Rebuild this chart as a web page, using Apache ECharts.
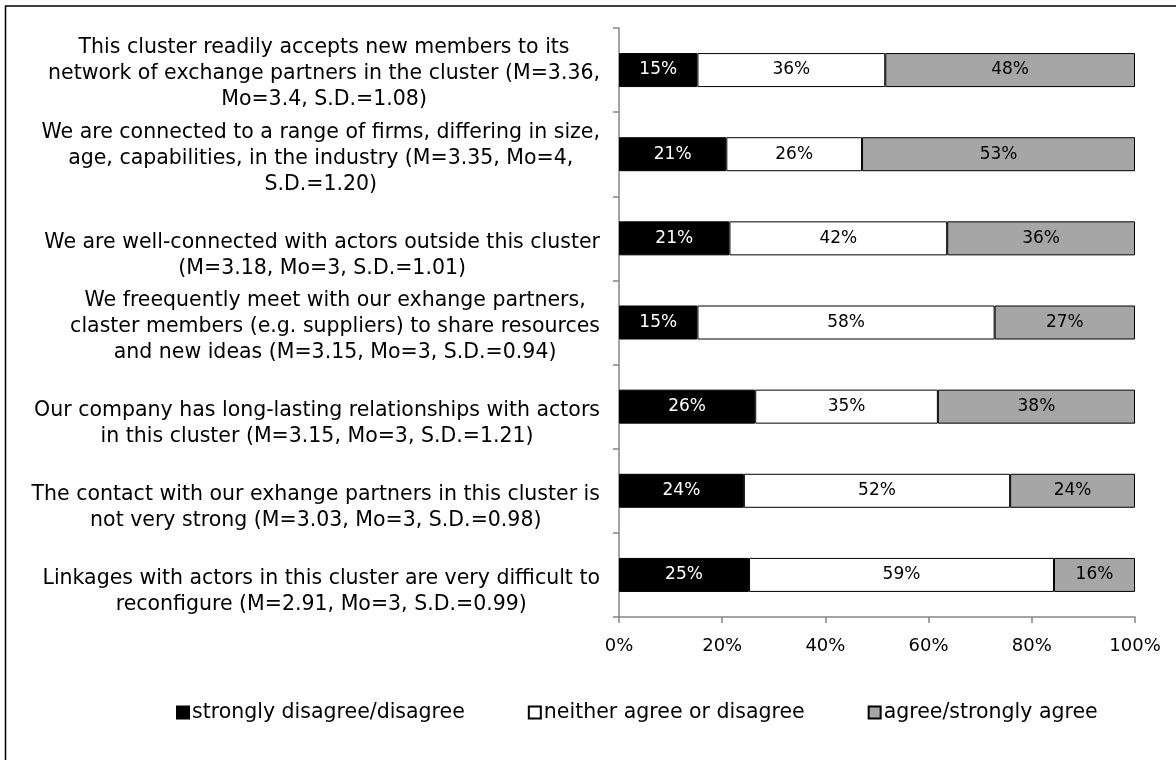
<!DOCTYPE html>
<html>
<head>
<meta charset="utf-8">
<style>
  html, body { margin: 0; padding: 0; background: #fff; }
  #chart { width: 1176px; height: 760px; }
</style>
<script src="https://cdn.jsdelivr.net/npm/echarts@6/dist/echarts.min.js"></script>
</head>
<body>
<div id="chart"></div>
<script>
// statements, top to bottom as in the figure
const statements = [
  'This cluster readily accepts new members to its\nnetwork of exchange partners in the cluster (M=3.36,\nMo=3.4, S.D.=1.08)',
  'We are connected to a range of firms, differing in size,\nage, capabilities, in the industry (M=3.35, Mo=4,\nS.D.=1.20)',
  'We are well-connected with actors outside this cluster\n(M=3.18, Mo=3, S.D.=1.01)',
  'We freequently meet with our exhange partners,\nclaster members (e.g. suppliers) to share resources\nand new ideas (M=3.15, Mo=3, S.D.=0.94)',
  'Our company has long-lasting relationships with actors\nin this cluster (M=3.15, Mo=3, S.D.=1.21)',
  'The contact with our exhange partners in this cluster is\nnot very strong (M=3.03, Mo=3, S.D.=0.98)',
  'Linkages with actors in this cluster are very difficult to\nreconfigure (M=2.91, Mo=3, S.D.=0.99)'
]

const seriesNames = ['strongly disagree/disagree', 'neither agree or disagree', 'agree/strongly agree']

// shares in percent
const disagree = [15.2, 20.8, 21.4, 15.2, 26.4, 24.2, 25.2]
const neutral = [36.4, 26.3, 42.2, 57.6, 35.4, 51.6, 59.1]
const agree = [48.4, 52.9, 36.4, 27.2, 38.2, 24.2, 15.7]

const FONT = 'DejaVu Sans'
const fills = ['#000000', '#ffffff', '#a6a6a6']
const labelColors = ['#ffffff', '#000000', '#000000']

const chart = echarts.init(document.getElementById('chart'))

const makeSeries = (name, data, idx) => ({
  name,
  type: 'bar',
  stack: 'total',
  barWidth: 34,
  data,
  itemStyle: { color: fills[idx], borderColor: '#000', borderWidth: 1 },
  label: {
    show: true,
    position: 'inside',
    color: labelColors[idx],
    fontFamily: FONT,
    fontSize: 17,
    formatter: p => Math.round(p.value) + '%'
  },
  emphasis: { disabled: true },
  animation: false
})

// Excel lays out two-line labels in a three-line box (blank line on top)
const wrapLabel = v => {
  const lines = v.split('\n').map(l => '{c|' + l + '}')
  if (lines.length === 2) lines.unshift('{c| }')
  return lines.join('\n')
}

chart.setOption({
  backgroundColor: '#fff',
  textStyle: { fontFamily: FONT },
  graphic: [
    {
      type: 'rect',
      shape: { x: 5.5, y: 6, width: 1300, height: 900 },
      style: { fill: 'none', stroke: '#000', lineWidth: 1.5 },
      silent: true
    }
  ],
  legend: {
    data: seriesNames,
    left: 171,
    top: 697,
    itemWidth: 12,
    itemHeight: 12,
    itemGap: 63,
    icon: 'rect',
    textStyle: { fontFamily: FONT, fontSize: 20.5, color: '#000', padding: [0, 0, 0, -2] }
  },
  grid: { left: 619, right: 41, top: 28, bottom: 143 },
  xAxis: {
    type: 'value',
    min: 0,
    max: 100,
    interval: 20,
    axisLine: { show: true, lineStyle: { color: '#868686', width: 1.5 } },
    axisTick: { show: true, length: 6, lineStyle: { color: '#868686', width: 1.5 } },
    splitLine: { show: false },
    axisLabel: { formatter: '{value}%', color: '#000', fontFamily: FONT, fontSize: 18, margin: 20 }
  },
  yAxis: {
    type: 'category',
    inverse: true,
    data: statements,
    axisLine: { show: true, lineStyle: { color: '#868686', width: 1.5 } },
    axisTick: { show: true, length: 6, lineStyle: { color: '#868686', width: 1.5 } },
    axisLabel: {
      margin: 19,
      interval: 0,
      padding: [8, 0, 0, 0],
      formatter: wrapLabel,
      rich: {
        c: { align: 'center', fontFamily: FONT, fontSize: 20.5, lineHeight: 26, color: '#000' }
      }
    }
  },
  series: [
    makeSeries(seriesNames[0], disagree, 0),
    makeSeries(seriesNames[1], neutral, 1),
    makeSeries(seriesNames[2], agree, 2)
  ]
})
</script>
</body>
</html>
